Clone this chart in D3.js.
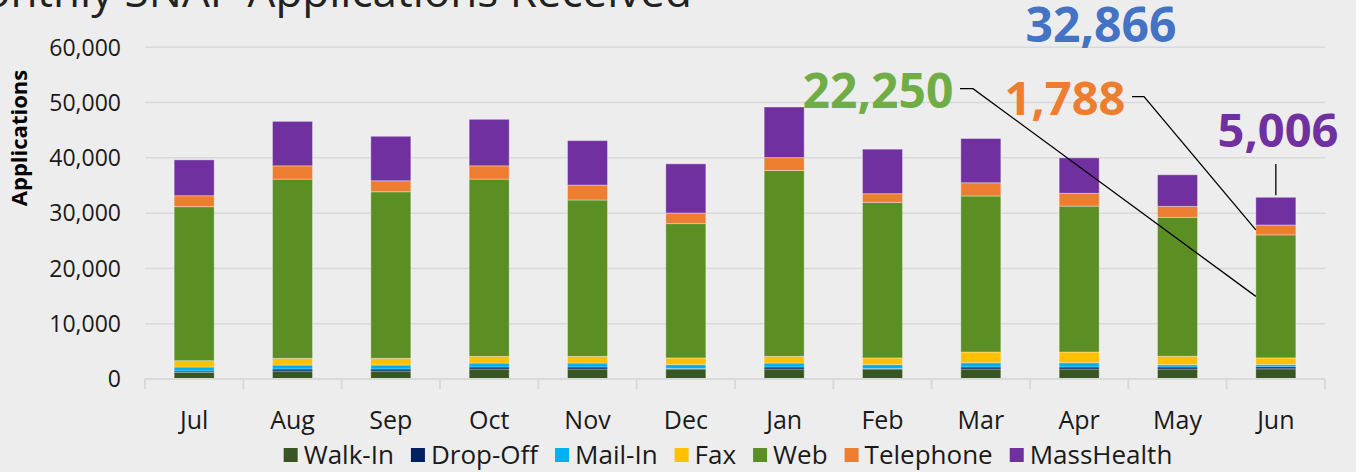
<!DOCTYPE html>
<html>
<head>
<meta charset="utf-8">
<script src="https://cdn.jsdelivr.net/npm/d3@7"></script>
<style>
  html, body { margin: 0; padding: 0; background: #EDEDED; }
  svg { display: block; font-family: "Open Sans", sans-serif; }
</style>
</head>
<body>
<svg id="chart" width="1356" height="472"></svg>
<script>
const months = ["Jul","Aug","Sep","Oct","Nov","Dec","Jan","Feb","Mar","Apr","May","Jun"];
const walkIn    = [1210,1450,1450,1810,1810,1810,1810,1810,1810,1810,1810,1850];
const dropOff   = [240,360,360,360,360,80,360,80,360,360,360,370];
const mailIn    = [720,720,720,720,720,720,720,720,780,780,420,420];
const fax       = [1140,1200,1200,1200,1200,1200,1200,1200,1930,1930,1520,1182];
const web       = [27860,32430,30140,32070,28290,24300,33620,28140,28220,26390,25140,22250];
const telephone = [1980,2400,1990,2400,2700,1920,2340,1570,2400,2330,1980,1788];
const massHealth= [6490,8040,8040,8410,8040,8890,9150,8050,8000,6400,5710,5006];
const seriesNames = ["Walk-In","Drop-Off","Mail-In","Fax","Web","Telephone","MassHealth"];
const seriesColors = ["#375623","#002060","#00B0F0","#FFC000","#5B8E23","#ED7D31","#7030A0"];
const yTicks = [0,10000,20000,30000,40000,50000,60000];
const titleText = "Monthly SNAP Applications Received";
const yAxisTitle = "Applications";
const annotations = [
  {label:"32,866", color:"#4472C4", series:null},
  {label:"22,250", color:"#70AD47", series:"Web"},
  {label:"1,788",  color:"#ED7D31", series:"Telephone"},
  {label:"5,006",  color:"#7030A0", series:"MassHealth"}
];

const seriesValues = [walkIn, dropOff, mailIn, fax, web, telephone, massHealth];
const rows = months.map((m,i) => {
  const r = {month: m};
  seriesNames.forEach((s,j) => r[s] = seriesValues[j][i]);
  return r;
});

const svg = d3.select("#chart");
svg.append("rect").attr("width",1356).attr("height",472).attr("fill","#EDEDED");

const x = d3.scaleBand().domain(months).range([145,1325]).paddingInner(0.593).paddingOuter(0.2965);
const y = d3.scaleLinear().domain([0,60000]).range([379,47.3]);

// gridlines
svg.append("g").selectAll("line").data(yTicks.filter(d=>d>0)).join("line")
  .attr("x1",145).attr("x2",1325)
  .attr("y1",d=>y(d)).attr("y2",d=>y(d))
  .attr("stroke","#D9D9D9").attr("stroke-width",1.5);

// y tick labels
svg.append("g").selectAll("text").data(yTicks).join("text")
  .attr("x",121).attr("y",d=>y(d)).attr("dy","0.36em")
  .attr("text-anchor","end").attr("font-size",23).attr("fill","#1a1a1a")
  .text(d=>d3.format(",")(d));

// y axis title
svg.append("text")
  .attr("transform","translate(26.5,138) rotate(-90)")
  .attr("text-anchor","middle").attr("font-size",22).attr("font-weight","bold").attr("fill","#000")
  .text(yAxisTitle);

// stacked bars
const stack = d3.stack().keys(seriesNames);
const stacked = stack(rows);
const color = d3.scaleOrdinal().domain(seriesNames).range(seriesColors);
svg.append("g").selectAll("g").data(stacked).join("g")
  .attr("fill",d=>color(d.key))
  .selectAll("rect").data(d=>d).join("rect")
  .attr("x",d=>x(d.data.month))
  .attr("width",x.bandwidth())
  .attr("y",d=>y(d[1]))
  .attr("height",d=>Math.max(0,y(d[0])-y(d[1])))
  .attr("stroke","rgba(255,255,255,0.35)").attr("stroke-width",1);

// x axis line and ticks
const xa = svg.append("g");
xa.append("line").attr("x1",145).attr("x2",1325).attr("y1",y(0)).attr("y2",y(0))
  .attr("stroke","#D9D9D9").attr("stroke-width",2);
const step = x.step();
xa.selectAll("line.tick").data(d3.range(months.length+1)).join("line").attr("class","tick")
  .attr("x1",i=>145+i*step).attr("x2",i=>145+i*step)
  .attr("y1",y(0)).attr("y2",y(0)+10)
  .attr("stroke","#D9D9D9").attr("stroke-width",2);
xa.selectAll("text").data(months).join("text")
  .attr("x",d=>x(d)+x.bandwidth()/2).attr("y",429)
  .attr("text-anchor","middle").attr("font-size",25).attr("fill","#1a1a1a")
  .text(d=>d);

// title (clipped at top, as in the reference)
svg.append("text").attr("x",692).attr("y",7).attr("text-anchor","end")
  .attr("font-size",44).attr("fill","#222").text(titleText);

// legend
const lg = svg.append("g");
let cx = 0;
seriesNames.forEach((s,i) => {
  const g = lg.append("g").attr("transform",`translate(${cx},0)`);
  g.append("rect").attr("x",0).attr("y",448).attr("width",14).attr("height",14).attr("fill",seriesColors[i]);
  const t = g.append("text").attr("x",20).attr("y",464).attr("font-size",26).attr("fill","#1a1a1a").text(s);
  const w = t.node().getComputedTextLength();
  cx += 20 + w + 17;
});
const totalW = cx - 17;
lg.attr("transform",`translate(${728 - totalW/2},0)`);

// annotations
const last = rows[rows.length-1];
const jun = "Jun";
const lastStack = name => stacked.find(s=>s.key===name)[months.length-1];
const xl = x(jun), xc = x(jun)+x.bandwidth()/2;
const total = d3.sum(seriesNames, s=>last[s]);
const ann = svg.append("g");
const lineStyle = sel => sel.attr("fill","none").attr("stroke","#000").attr("stroke-width",1.3);

ann.append("text").attr("x",1101).attr("y",42).attr("text-anchor","middle")
  .attr("font-size",48).attr("font-weight","bold").attr("fill",annotations[0].color).text(annotations[0].label);
const webSeg = lastStack("Web");
ann.append("text").attr("x",878).attr("y",108).attr("text-anchor","middle")
  .attr("font-size",48).attr("font-weight","bold").attr("fill",annotations[1].color).text(annotations[1].label);
ann.append("path").call(lineStyle)
  .attr("d",`M960,88.7 H973 L${xl},${y((webSeg[0]+webSeg[1])/2)}`);
const telSeg = lastStack("Telephone");
ann.append("text").attr("x",1065).attr("y",115).attr("text-anchor","middle")
  .attr("font-size",47).attr("font-weight","bold").attr("fill",annotations[2].color).text(annotations[2].label);
ann.append("path").call(lineStyle)
  .attr("d",`M1132,96.7 H1144 L${xl},${y((telSeg[0]+telSeg[1])/2)}`);
ann.append("text").attr("x",1278).attr("y",147).attr("text-anchor","middle")
  .attr("font-size",47).attr("font-weight","bold").attr("fill",annotations[3].color).text(annotations[3].label);
ann.append("path").call(lineStyle)
  .attr("d",`M${xc},${y(total)-2} V164`);
</script>
</body>
</html>
